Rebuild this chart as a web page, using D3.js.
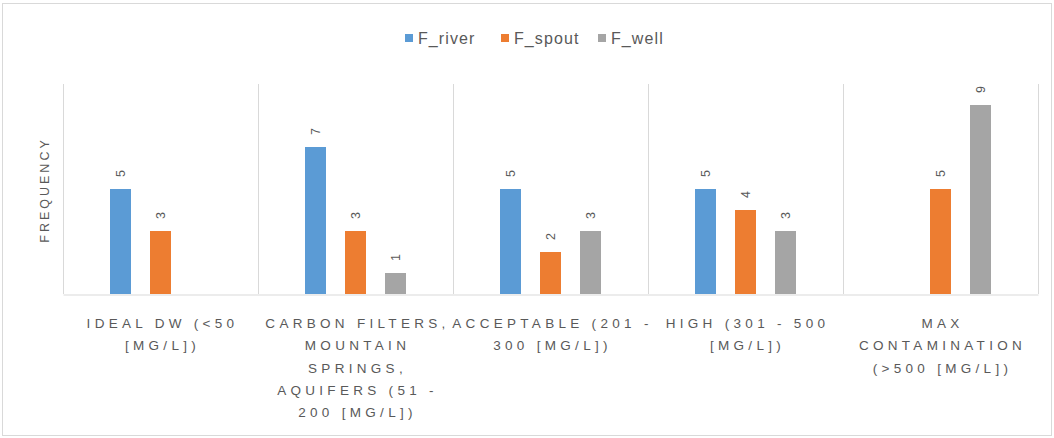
<!DOCTYPE html>
<html>
<head>
<meta charset="utf-8">
<script src="https://cdn.jsdelivr.net/npm/d3@7"></script>
<style>
  html, body { margin: 0; padding: 0; background: #fff; }
  svg { display: block; font-family: "Liberation Sans", Arial, sans-serif; }
</style>
</head>
<body>
<svg id="chart" width="1054" height="438"></svg>
<script>
// Category labels, already broken into the lines they wrap onto
const categories = [
  ["IDEAL DW (<50", "[MG/L])"],
  ["CARBON FILTERS,", "MOUNTAIN", "SPRINGS,", "AQUIFERS (51 -", "200 [MG/L])"],
  ["ACCEPTABLE (201 -", "300 [MG/L])"],
  ["HIGH (301 - 500", "[MG/L])"],
  ["MAX", "CONTAMINATION", "(>500 [MG/L])"]
];
const seriesNames = ["F_river", "F_spout", "F_well"];
const fRiver = [5, 7, 5, 5, null];
const fSpout = [3, 3, 2, 4, 5];
const fWell  = [null, 1, 3, 3, 9];
const seriesValues = [fRiver, fSpout, fWell];
const colors = ["#5B9BD5", "#ED7D31", "#A5A5A5"];

const svg = d3.select("#chart");
const W = 1054, H = 438;
const plot = { left: 63, right: 1038, top: 84, bottom: 294 };

// outer chart frame
svg.append("rect")
  .attr("x", 2.5).attr("y", 3.5).attr("width", W - 5).attr("height", H - 6)
  .attr("fill", "#fff").attr("stroke", "#d9d9d9").attr("stroke-width", 1);

const catIdx = d3.range(categories.length);
const x0 = d3.scaleBand().domain(catIdx).range([plot.left, plot.right]).padding(0);
const x1 = d3.scaleBand().domain(d3.range(seriesNames.length))
  .range([0, x0.bandwidth()]).paddingInner(0.475).paddingOuter(1.175);
const y = d3.scaleLinear().domain([0, 10]).range([plot.bottom, plot.top]);

// vertical separators between categories
const edges = catIdx.map(i => x0(i)).concat([plot.right]);
svg.append("g").selectAll("line").data(edges).join("line")
  .attr("x1", d => Math.round(d) + 0.5).attr("x2", d => Math.round(d) + 0.5)
  .attr("y1", plot.top).attr("y2", plot.bottom)
  .attr("stroke", "#d9d9d9").attr("stroke-width", 1);

// category axis along the bottom
const xAxis = svg.append("g").attr("transform", `translate(0,${plot.bottom + 0.5})`)
  .call(d3.axisBottom(x0).tickSize(0).tickFormat(""));
xAxis.select(".domain").attr("stroke", "#d9d9d9");

// bars
const bars = [];
seriesValues.forEach((vals, s) => vals.forEach((v, i) => {
  if (v != null) bars.push({ s, i, v });
}));

svg.append("g").selectAll("rect").data(bars).join("rect")
  .attr("x", d => x0(d.i) + x1(d.s))
  .attr("width", x1.bandwidth())
  .attr("y", d => y(d.v))
  .attr("height", d => y(0) - y(d.v))
  .attr("fill", d => colors[d.s]);

// rotated value labels above each bar
svg.append("g").selectAll("text").data(bars).join("text")
  .attr("transform", d => `translate(${x0(d.i) + x1(d.s) + x1.bandwidth() / 2},${y(d.v) - 12}) rotate(-90)`)
  .attr("text-anchor", "start")
  .attr("dy", "0.35em")
  .attr("font-size", 12.5)
  .attr("fill", "#595959")
  .text(d => d.v);

// wrapped category labels
const labels = svg.append("g").selectAll("text").data(categories).join("text")
  .attr("text-anchor", "middle")
  .attr("font-size", 13.5)
  .attr("letter-spacing", "4.3px")
  .attr("fill", "#595959");
labels.each(function (lines, i) {
  const t = d3.select(this);
  lines.forEach((ln, k) => {
    t.append("tspan")
      .attr("x", x0(i) + x0.bandwidth() / 2 + 2)
      .attr("y", 328 + k * 22.3)
      .text(ln);
  });
});

// y axis title
svg.append("text")
  .attr("transform", `translate(45,190) rotate(-90)`)
  .attr("text-anchor", "middle")
  .attr("dy", "0.35em")
  .attr("font-size", 12.5)
  .attr("letter-spacing", "3px")
  .attr("fill", "#595959")
  .text("FREQUENCY");

// legend
const legendX = [405, 501, 598];
const legend = svg.append("g").selectAll("g").data(seriesNames).join("g")
  .attr("transform", (d, i) => `translate(${legendX[i]},38)`);
legend.append("rect").attr("x", 0).attr("y", -4).attr("width", 8).attr("height", 8)
  .attr("fill", (d, i) => colors[i]);
legend.append("text").attr("x", 13).attr("dy", "0.35em")
  .attr("font-size", 16).attr("letter-spacing", "1.1px").attr("fill", "#595959")
  .text(d => d);
</script>
</body>
</html>
